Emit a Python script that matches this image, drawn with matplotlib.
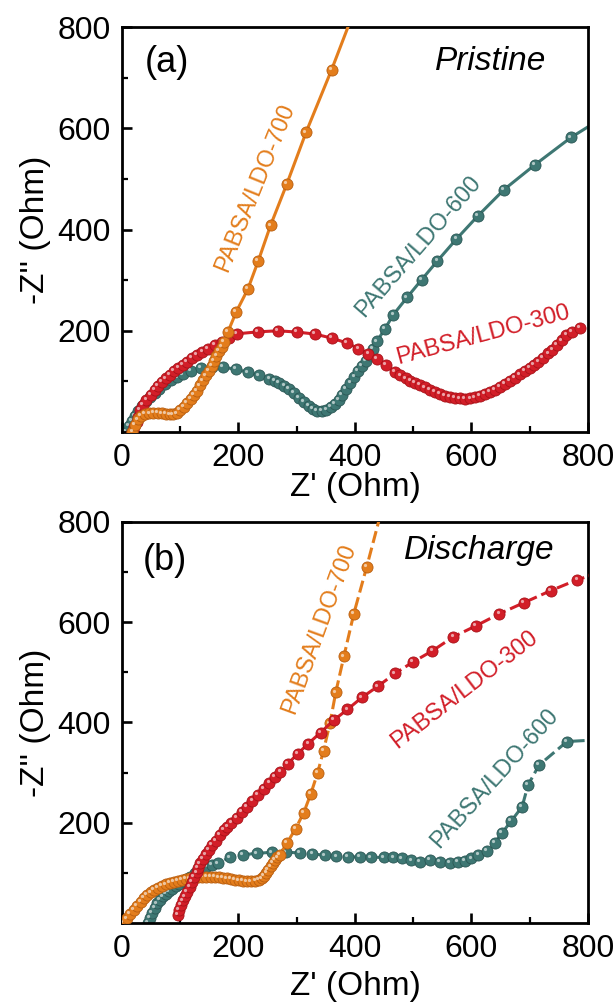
import matplotlib
matplotlib.use('Agg')
import matplotlib.pyplot as plt
from matplotlib.transforms import offset_copy
from matplotlib.ticker import MultipleLocator, FixedLocator

plt.rcParams['font.family'] = ['Liberation Sans', 'DejaVu Sans']

# ---------------- data: panel (a) Pristine ----------------
a700_x = [18, 22, 27, 33, 40, 47, 54, 61, 68, 75, 82, 88, 94, 100, 106, 112, 118, 124, 129, 134,
          139, 144, 149, 154, 158, 162, 167, 171, 175, 182, 196, 216, 234, 255, 283, 316, 360, 398]
a700_y = [0, 14, 25, 32, 36, 37, 37.5, 37.5, 37, 36, 35, 35, 37, 43, 50, 57, 65, 73, 82, 92,
          102, 112, 121, 131, 140, 150, 160, 168, 178, 198, 237, 282, 338, 408, 490, 592, 716, 830]

a600_x = [7, 12, 17, 22, 28, 34, 41, 48, 56, 64, 74, 84, 95, 105, 118, 135, 155, 173, 196, 216,
          235, 253, 262, 270, 279, 287, 295, 304, 312, 321, 328, 335, 343, 351, 358, 365, 372, 378,
          385, 392, 399, 405, 412, 419, 425, 431, 437.5, 451, 466, 489.5, 514.5, 541.5, 574, 611,
          656, 709, 771, 810]
a600_y = [1, 12, 22, 32, 42, 52, 62, 70, 78, 86, 95, 102, 108, 114, 120, 126, 128, 128, 124, 118,
          112, 105, 101, 97, 91, 85, 77, 67, 59, 51, 45, 41, 41, 44, 49, 55, 64, 74,
          85, 97, 109, 120, 130, 140, 152, 165, 179, 203, 232, 266, 301, 338, 381, 427,
          479, 528, 582, 610]

a300_x = [17, 21, 25, 28, 31, 36, 42, 49, 57, 62, 68, 75, 82, 89, 97, 104, 112, 120, 129, 138,
          148, 159, 171, 184, 197, 234, 268, 300, 331, 360, 386, 406, 423, 437, 453, 469, 478, 487,
          495, 503, 511.6, 520, 529, 537, 546, 554, 563, 571, 580, 589, 598, 606, 615, 623, 632,
          640, 649, 657, 666, 674, 683, 692, 700.5, 707, 715, 723, 732, 739, 746, 755, 763, 772,
          786]
a300_y = [1, 10, 20, 30, 43, 53, 63, 73, 83, 91, 99, 106, 113, 120, 126, 133, 139, 146, 152, 159,
          165, 172, 178, 186, 194, 198, 200, 197.5, 193.6, 185.6, 176, 165, 155, 144, 132, 119, 112, 106,
          101, 97, 92.8, 88, 83, 79, 75, 72, 69.7, 67.5, 66.4, 66, 66.4, 68.5, 71, 75, 79.6,
          84, 89.5, 95, 100.7, 107, 114, 120, 126, 132, 139, 147, 155.5, 163, 172, 181, 191.6, 198,
          205]

# ---------------- data: panel (b) Discharge ----------------
b700_x = [2, 8, 14, 20, 26, 32, 37, 43, 49, 55, 61, 68, 75, 82, 89, 96, 103, 110, 117, 124,
          131, 138, 145, 152, 159, 166, 173, 180, 187, 194, 201, 208, 215, 222, 229, 235, 240, 244,
          248, 251, 255, 259, 263, 267, 271, 283, 298, 312, 324, 336, 346, 357, 367, 381, 398, 420, 445]
b700_y = [0, 9, 18, 26, 34, 42, 50, 56, 61, 66, 70, 74, 77, 80, 82, 84, 86, 88, 89, 90,
          91, 92, 92, 92, 92, 91, 90, 89, 88, 86, 85, 84, 83, 83, 84, 86, 89, 94,
          100, 106, 113, 120, 126, 131, 136, 159, 188, 220, 257, 300, 344, 398, 460, 532, 617, 710, 820]

b300_x = [96, 98, 101, 104, 108, 112, 116, 120, 124, 128, 131, 134, 139, 144, 149, 155, 161, 168,
          175, 181, 188, 197, 206, 215, 224, 234, 243, 253, 262, 272, 285, 302, 320, 341, 364, 387,
          412, 439, 469, 500, 533, 569, 608, 648, 690, 736, 782, 810]
b300_y = [16, 26, 36, 45, 53, 62, 72, 82, 92, 101, 110, 119, 128, 137, 146, 155, 164, 176,
          185, 192, 199, 210, 221, 232, 243, 256, 268, 280, 291, 302, 318, 338, 358, 380, 405, 426,
          450, 472, 498, 521, 543, 571, 593, 617, 639, 663, 685, 695]

b600_x = [45, 48, 52, 56, 60, 65, 70, 75, 80, 86, 92, 98, 104, 110, 117, 125, 135, 145, 155, 165,
          185, 208, 231, 257, 282, 306, 327, 348, 368, 388, 408, 428, 449, 466, 480, 497, 512, 529,
          546, 563, 577, 589, 600, 612, 626, 640, 652, 668, 687, 697, 716, 764, 810]
b600_y = [0, 10, 20, 30, 39, 46, 53, 58, 63, 68, 73, 78, 83, 87, 92, 99, 105, 112, 116, 119,
          131, 136, 139, 141, 141, 140, 138, 135, 133, 132, 132, 131, 131, 131, 129, 125, 122, 126,
          122, 120, 122, 124, 129, 136, 144, 160, 179, 203, 232, 275, 315, 362, 365]

c_orange = '#E37D1C'
c_red = '#D21E28'
c_teal = '#3E7773'
edge = {c_orange: '#B85E10', c_red: '#A81219', c_teal: '#2B5755'}

fig = plt.figure(figsize=(6.16, 10.05), dpi=100)
ax1 = fig.add_axes([0.198, 0.5701, 0.7565, 0.403])
ax2 = fig.add_axes([0.198, 0.0816, 0.7565, 0.399])


def draw(ax, x, y, color, ls, z):
    ax.plot(x, y, color=color, lw=2.2, ls=ls, marker='o', ms=8, mfc=color,
            mec=edge[color], mew=0.6, zorder=z)
    tr = offset_copy(ax.transData, fig=fig, x=-1.3, y=1.3, units='points')
    ax.plot(x, y, ls='none', marker='o', ms=2.3, mfc='white', mec='none', alpha=0.6,
            transform=tr, zorder=z + 0.5)


draw(ax1, a600_x, a600_y, c_teal, '-', 2)
draw(ax1, a300_x, a300_y, c_red, '-', 3)
draw(ax1, a700_x, a700_y, c_orange, '-', 4)

dash = (0, (4, 1.6))
draw(ax2, b600_x, b600_y, c_teal, dash, 2)
draw(ax2, b700_x, b700_y, c_orange, dash, 3)
draw(ax2, b300_x, b300_y, c_red, dash, 4)

for ax in (ax1, ax2):
    ax.set_xlim(0, 800)
    ax.set_ylim(0, 800)
    ax.xaxis.set_major_locator(FixedLocator([0, 200, 400, 600, 800]))
    ax.yaxis.set_major_locator(FixedLocator([200, 400, 600, 800]))
    ax.xaxis.set_minor_locator(MultipleLocator(100))
    ax.yaxis.set_minor_locator(MultipleLocator(100))
    ax.tick_params(which='major', direction='in', length=7, width=1.9, labelsize=23, pad=8)
    ax.tick_params(which='minor', direction='in', length=4, width=1.6)
    for s in ax.spines.values():
        s.set_linewidth(2.0)
    ax.set_ylabel("-Z'' (Ohm)", fontsize=24, labelpad=5)

ax1.set_xlabel("Z' (Ohm)", fontsize=24, labelpad=-1)
ax2.set_xlabel("Z' (Ohm)", fontsize=24, labelpad=5)

# annotations panel (a)
ax1.text(39, 729, '(a)', fontsize=26, ha='left', va='center')
ax1.text(728, 731, 'Pristine', fontsize=24, style='italic', ha='right', va='center')
ax1.text(228, 482, 'PABSA/LDO-700', color=c_orange, fontsize=17, rotation=68,
         ha='center', va='center', rotation_mode='anchor')
ax1.text(509, 367, 'PABSA/LDO-600', color=c_teal, fontsize=17, rotation=49,
         ha='center', va='center', rotation_mode='anchor')
ax1.text(620, 192, 'PABSA/LDO-300', color=c_red, fontsize=17, rotation=15,
         ha='center', va='center', rotation_mode='anchor')

# annotations panel (b)
ax2.text(36, 724, '(b)', fontsize=26, ha='left', va='center')
ax2.text(742, 744, 'Discharge', fontsize=24, style='italic', ha='right', va='center')
ax2.text(339, 586, 'PABSA/LDO-700', color=c_orange, fontsize=17, rotation=70,
         ha='center', va='center', rotation_mode='anchor')
ax2.text(588, 465, 'PABSA/LDO-300', color=c_red, fontsize=17, rotation=37.6,
         ha='center', va='center', rotation_mode='anchor')
ax2.text(639, 289, 'PABSA/LDO-600', color=c_teal, fontsize=17, rotation=48,
         ha='center', va='center', rotation_mode='anchor')

fig.savefig('out.png', dpi=100)
